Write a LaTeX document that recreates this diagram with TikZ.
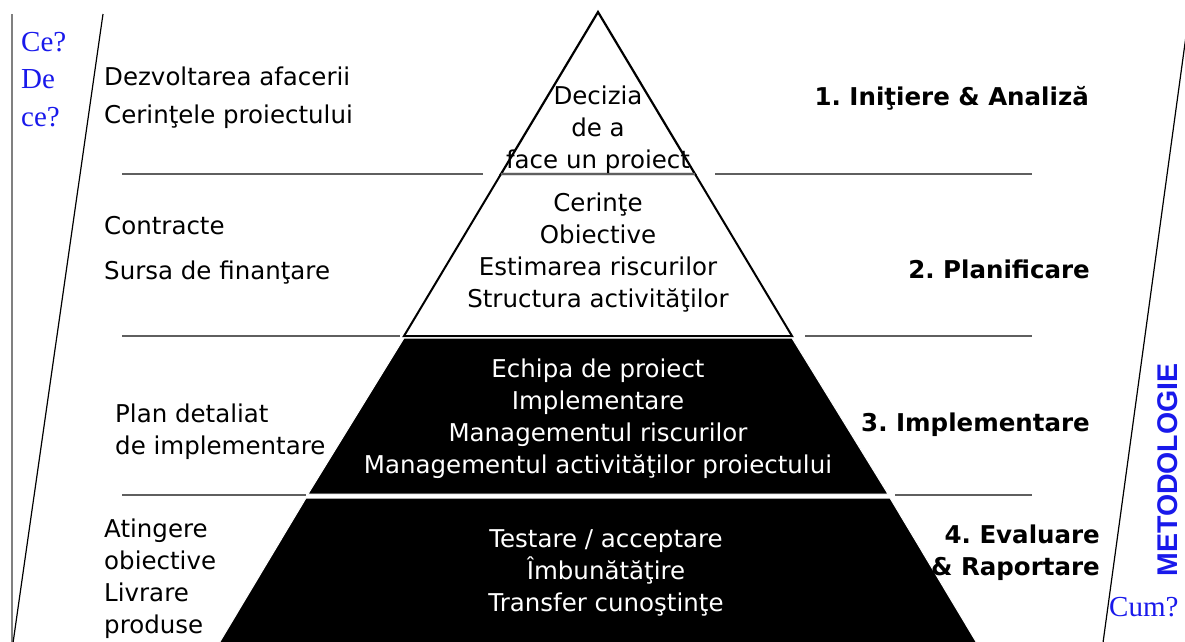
\documentclass[tikz,border=0pt]{standalone}
\usepackage{fontspec}
\setmainfont{DejaVu Sans}
\newfontfamily\askfont{Liberation Serif}
\newfontfamily\metfont{Liberation Sans}
\usetikzlibrary{positioning}
\definecolor{askblue}{RGB}{25,25,235}
\definecolor{rulegray}{RGB}{95,95,95}
\frenchspacing

\begin{document}
\begin{tikzpicture}[x=1pt,y=-1pt,
    txt/.style={font=\fontsize{24.5}{32}\selectfont, inner sep=0pt},
    level/.style={txt, align=center},
    side/.style={txt, align=left, anchor=west},
    phase/.style={txt, font=\fontsize{24.5}{32}\selectfont\bfseries, align=right, anchor=east},
    ask/.style={text=askblue, font=\askfont\fontsize{29}{37}\selectfont, inner sep=0pt, anchor=west},
    rule/.style={rulegray, line width=1.2pt}]
    \useasboundingbox (0,0) rectangle (1185,641);
    \begin{scope}
        \clip (0,0) rectangle (1185,641);
        % side frame: gray upright and the two slanted borders
        \draw[gray, line width=1.4pt] (12,14) -- (12,650);
        \draw[line width=1.2pt] (103,14) -- (12,650);
        \draw[line width=1.2pt] (1189,14) -- (1102,650);

        % horizontal rules between the levels
        \draw[rule] (122,174) -- (483,174);  \draw[rule] (715,174) -- (1032,174);
        \draw[rule] (122,336) -- (400,336);  \draw[rule] (805,336) -- (1032,336);
        \draw[rule] (122,495) -- (306,495);  \draw[rule] (895,495) -- (1032,495);

        % pyramid: two white levels on top, two black ones below
        \draw[line width=2.2pt, line join=miter] (598,12) -- (501,174) -- (695,174) -- cycle;
        \draw[line width=2pt] (501,174) -- (404,336) -- (792,336) -- (695,174);
        \draw[rulegray, line width=1.2pt] (501,174) -- (695,174);
        \filldraw[fill=black, draw=white, line width=1pt] (404,338) -- (308,494) -- (888,494) -- (792,338) -- cycle;
        \filldraw[fill=black, draw=white, line width=1pt] (306,498) -- (218,645) -- (978,645) -- (890,498) -- cycle;
    \end{scope}

    % inside the pyramid
    \node[level] (decizie) at (598,130) {Decizia\\de a\\face un proiect};
    \node[level] (planuri) at (598,253) {Cerinţe\\Obiective\\Estimarea riscurilor\\Structura activităţilor};
    \node[level, text=white] (executie) at (598,419) {Echipa de proiect\\Implementare\\Managementul riscurilor\\Managementul activităţilor proiectului};
    \node[level, text=white] (evaluare) at (606,573) {Testare / acceptare\\Îmbunătăţire\\Transfer cunoştinţe};

    % left column
    \node[side] (afacere) at (104,76) {Dezvoltarea afacerii};
    \node[side] (cerinte) at (104,117) {Cerinţele proiectului};
    \node[side] (contracte) at (104,226) {Contracte};
    \node[side] (sursa) at (104,273) {Sursa de finanţare};
    \node[side] (plan) at (115,432) {Plan detaliat\\de implementare};
    \node[side] (livrare) at (104,579) {Atingere\\obiective\\Livrare\\produse};

    % phases on the right
    \node[phase] (faza1) at (1089,98) {1. Iniţiere \& Analiză};
    \node[phase] (faza2) at (1090,269) {2. Planificare};
    \node[phase] (faza3) at (1090,425) {3. Implementare};
    \node[phase] (faza4) at (1100,553) {4. Evaluare\\\& Raportare};

    % questions and method
    \node[ask] (ce) at (21,42) {Ce?};
    \node[ask] (dece) at (21,79) {De};
    \node[ask] (ce2) at (21,117) {ce?};
    \node[ask] (cum) at (1109,607) {Cum?};
    \node[text=askblue, font=\metfont\bfseries\fontsize{28.5}{32}\selectfont, rotate=90, inner sep=0pt] (metoda) at (1168,470) {METODOLOGIE};
\end{tikzpicture}
\end{document}
